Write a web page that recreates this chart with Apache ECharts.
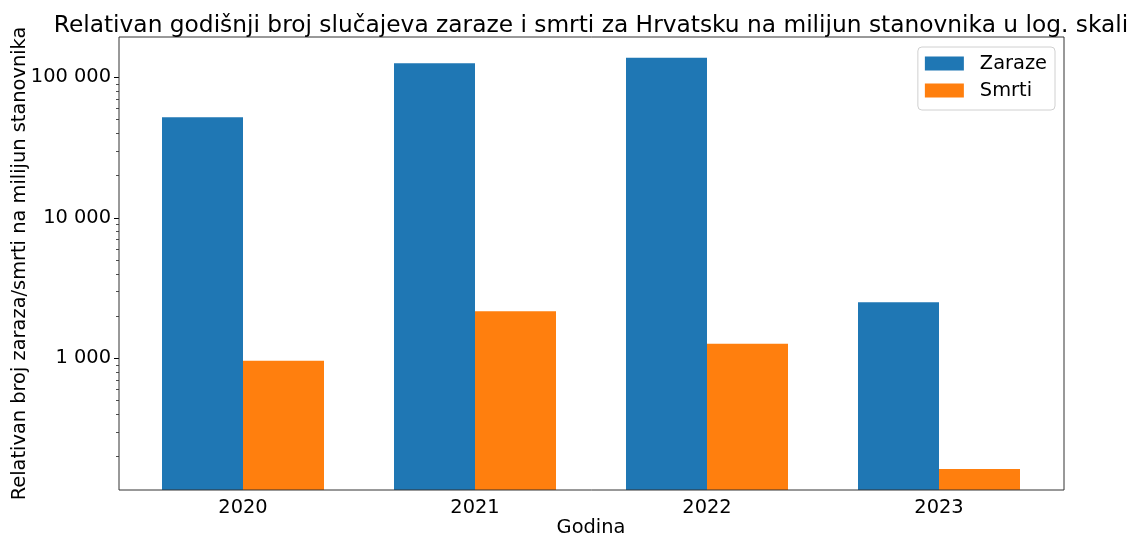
<!DOCTYPE html>
<html lang="hr" style="height: 100%">
<head>
    <meta charset="utf-8">
</head>
<body style="height: 100%; margin: 0">
    <div id="container" style="width: 1131px; height: 535px"></div>

    <script type="text/javascript" src="https://cdn.jsdelivr.net/npm/echarts@6/dist/echarts.min.js"></script>
    <script type="text/javascript">
        // podaci
        const godine = ['2020', '2021', '2022', '2023'];
        const zaraze = [52100, 126300, 138300, 2510];
        const smrti = [963, 2165, 1273, 163];
        const glavneOznake = [1000, 10000, 100000];
        const sporedneOznake = [200, 300, 400, 500, 600, 700, 800, 900,
            2000, 3000, 4000, 5000, 6000, 7000, 8000, 9000,
            20000, 30000, 40000, 50000, 60000, 70000, 80000, 90000];
        const yMin = 115.6;
        const yMax = 194000;

        const font = 'DejaVu Sans';

        function razmak(v) {
            return String(v).replace(/\B(?=(\d{3})+(?!\d))/g, ' ');
        }

        var dom = document.getElementById('container');
        var myChart = echarts.init(dom, null, { renderer: 'canvas' });

        var option = {
            animation: false,
            title: {
                text: 'Relativan godišnji broj slučajeva zaraze i smrti za Hrvatsku na milijun stanovnika u log. skali',
                left: 591,
                textAlign: 'center',
                top: 14,
                padding: 0,
                textStyle: { fontFamily: font, fontSize: 23.3, fontWeight: 'normal', color: '#000' }
            },
            legend: {
                orient: 'vertical',
                right: 76,
                top: 47,
                padding: [7, 8, 10, 7],
                itemWidth: 39,
                itemHeight: 14,
                itemGap: 8,
                icon: 'rect',
                borderColor: '#d0d0d0',
                borderWidth: 1,
                borderRadius: 4,
                backgroundColor: 'rgba(255,255,255,0.8)',
                textStyle: { fontFamily: font, fontSize: 19.4, color: '#000', lineHeight: 19, padding: [0, 0, 0, 11] },
                data: ['Zaraze', 'Smrti']
            },
            grid: [
                // okvir
                { left: 119, right: 67, top: 37, bottom: 45, show: true, borderColor: '#333', borderWidth: 1,
                  backgroundColor: 'transparent', z: 5, outerBoundsMode: 'none', containLabel: false },
                // stupci
                { left: 127, right: 76, top: 37, bottom: 45, outerBoundsMode: 'none', containLabel: false }
            ],
            xAxis: [{
                type: 'category',
                gridIndex: 1,
                data: godine,
                name: 'Godina',
                nameLocation: 'middle',
                nameGap: 28,
                nameMoveOverlap: false,
                nameTextStyle: { fontFamily: font, fontSize: 19.4, color: '#000' },
                axisLine: { show: false },
                axisTick: { alignWithLabel: true, length: 5, lineStyle: { color: '#000' } },
                axisLabel: { fontFamily: font, fontSize: 19.4, color: '#000', margin: 8 }
            }],
            yAxis: [{
                type: 'log',
                gridIndex: 1,
                position: 'left',
                logBase: 10,
                min: yMin,
                max: yMax,
                offset: 8,
                name: 'Relativan broj zaraza/smrti na milijun stanovnika',
                nameLocation: 'middle',
                nameGap: 90,
                nameMoveOverlap: false,
                nameTextStyle: { fontFamily: font, fontSize: 19.4, color: '#000' },
                axisLine: { show: false },
                splitLine: { show: false },
                axisTick: { show: true, customValues: glavneOznake, length: 5, lineStyle: { color: '#000' } },
                axisLabel: { customValues: glavneOznake, fontFamily: font, fontSize: 19.4, color: '#000', margin: 8, formatter: razmak }
            }, {
                type: 'log',
                gridIndex: 1,
                position: 'left',
                logBase: 10,
                min: yMin,
                max: yMax,
                offset: 8,
                axisLine: { show: false },
                splitLine: { show: false },
                axisLabel: { show: false },
                axisTick: { show: true, customValues: sporedneOznake, length: 3, lineStyle: { color: '#000', width: 0.7 } }
            }],
            series: [{
                name: 'Zaraze',
                type: 'bar',
                xAxisIndex: 0,
                yAxisIndex: 0,
                barWidth: 81,
                barGap: '0%',
                itemStyle: { color: '#1f77b4' },
                data: zaraze
            }, {
                name: 'Smrti',
                type: 'bar',
                xAxisIndex: 0,
                yAxisIndex: 0,
                barWidth: 81,
                barGap: '0%',
                itemStyle: { color: '#ff7f0e' },
                data: smrti
            }]
        };

        myChart.setOption(option);
        window.addEventListener('resize', myChart.resize);
    </script>
</body>
</html>
